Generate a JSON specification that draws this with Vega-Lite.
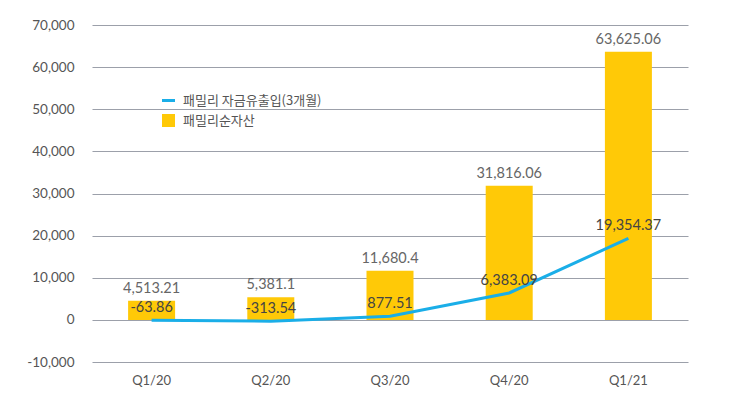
{
  "$schema": "https://vega.github.io/schema/vega-lite/v6.json",
  "width": 596,
  "height": 337,
  "autosize": {"type": "none"},
  "padding": {"left": 92, "top": 25, "right": 42, "bottom": 36},
  "background": "white",
  "config": {
    "view": {"stroke": null},
    "locale": {"number": {"decimal": ".", "thousands": ",", "grouping": [3], "currency": ["", ""], "minus": "-"}},
    "font": "Lato"
  },
  "data": {
    "values": [
      {"q": "Q1/20", "assets": 4513.21, "flow": -63.86},
      {"q": "Q2/20", "assets": 5381.1, "flow": -313.54},
      {"q": "Q3/20", "assets": 11680.4, "flow": 877.51},
      {"q": "Q4/20", "assets": 31816.06, "flow": 6383.09},
      {"q": "Q1/21", "assets": 63625.06, "flow": 19354.37}
    ]
  },
  "encoding": {
    "x": {
      "field": "q", "type": "ordinal", "sort": null,
      "scale": {"type": "band", "paddingInner": 0, "paddingOuter": 0},
      "axis": {"title": null, "labelAngle": 0, "domain": false, "ticks": false, "labelPadding": 12, "labelFontSize": 13, "labelColor": "#555", "labelFont": "Lato"}
    }
  },
  "layer": [
    {
      "mark": {"type": "bar", "size": 47},
      "transform": [{"calculate": "'패밀리순자산'", "as": "series"}],
      "encoding": {
        "y": {
          "field": "assets", "type": "quantitative",
          "scale": {"domain": [-10000, 70000], "nice": false},
          "axis": {"title": null, "values": [-10000, 0, 10000, 20000, 30000, 40000, 50000, 60000, 70000], "format": ",.0f", "domain": false, "ticks": false, "labelPadding": 18, "labelFontSize": 13.5, "labelColor": "#555", "gridColor": "#9ca0aa", "gridWidth": 1.2}
        },
        "color": {
          "field": "series", "type": "nominal",
          "scale": {"domain": ["패밀리 자금유출입(3개월)", "패밀리순자산"], "range": ["#1aaee8", "#ffc907"]},
          "legend": {
            "title": null, "orient": "none", "legendX": 70, "legendY": 69,
            "labelFont": "Noto Sans CJK KR", "labelFontSize": 13, "labelColor": "#555", "labelOffset": 8,
            "symbolSize": 170, "rowPadding": 5,
            "encode": {"symbols": {"update": {
              "shape": {"signal": "datum.value === '패밀리순자산' ? 'square' : 'stroke'"},
              "stroke": {"signal": "scale('color', datum.value)"},
              "strokeWidth": {"signal": "datum.value === '패밀리순자산' ? 0 : 3"},
              "fill": {"signal": "scale('color', datum.value)"}
            }}}
          }
        }
      }
    },
    {
      "mark": {"type": "text", "dy": -12, "fontSize": 14.5, "color": "#666", "font": "Lato"},
      "encoding": {
        "y": {"field": "assets", "type": "quantitative"},
        "text": {"field": "assets", "type": "quantitative", "format": ","}
      }
    },
    {
      "mark": {"type": "line", "interpolate": "linear", "strokeWidth": 3},
      "transform": [{"calculate": "'패밀리 자금유출입(3개월)'", "as": "series"}],
      "encoding": {
        "y": {"field": "flow", "type": "quantitative"},
        "color": {"field": "series", "type": "nominal"}
      }
    },
    {
      "mark": {"type": "text", "dy": -12, "fontSize": 14.5, "color": "#444", "font": "Lato"},
      "encoding": {
        "y": {"field": "flow", "type": "quantitative"},
        "text": {"field": "flow", "type": "quantitative", "format": ","}
      }
    }
  ]
}
